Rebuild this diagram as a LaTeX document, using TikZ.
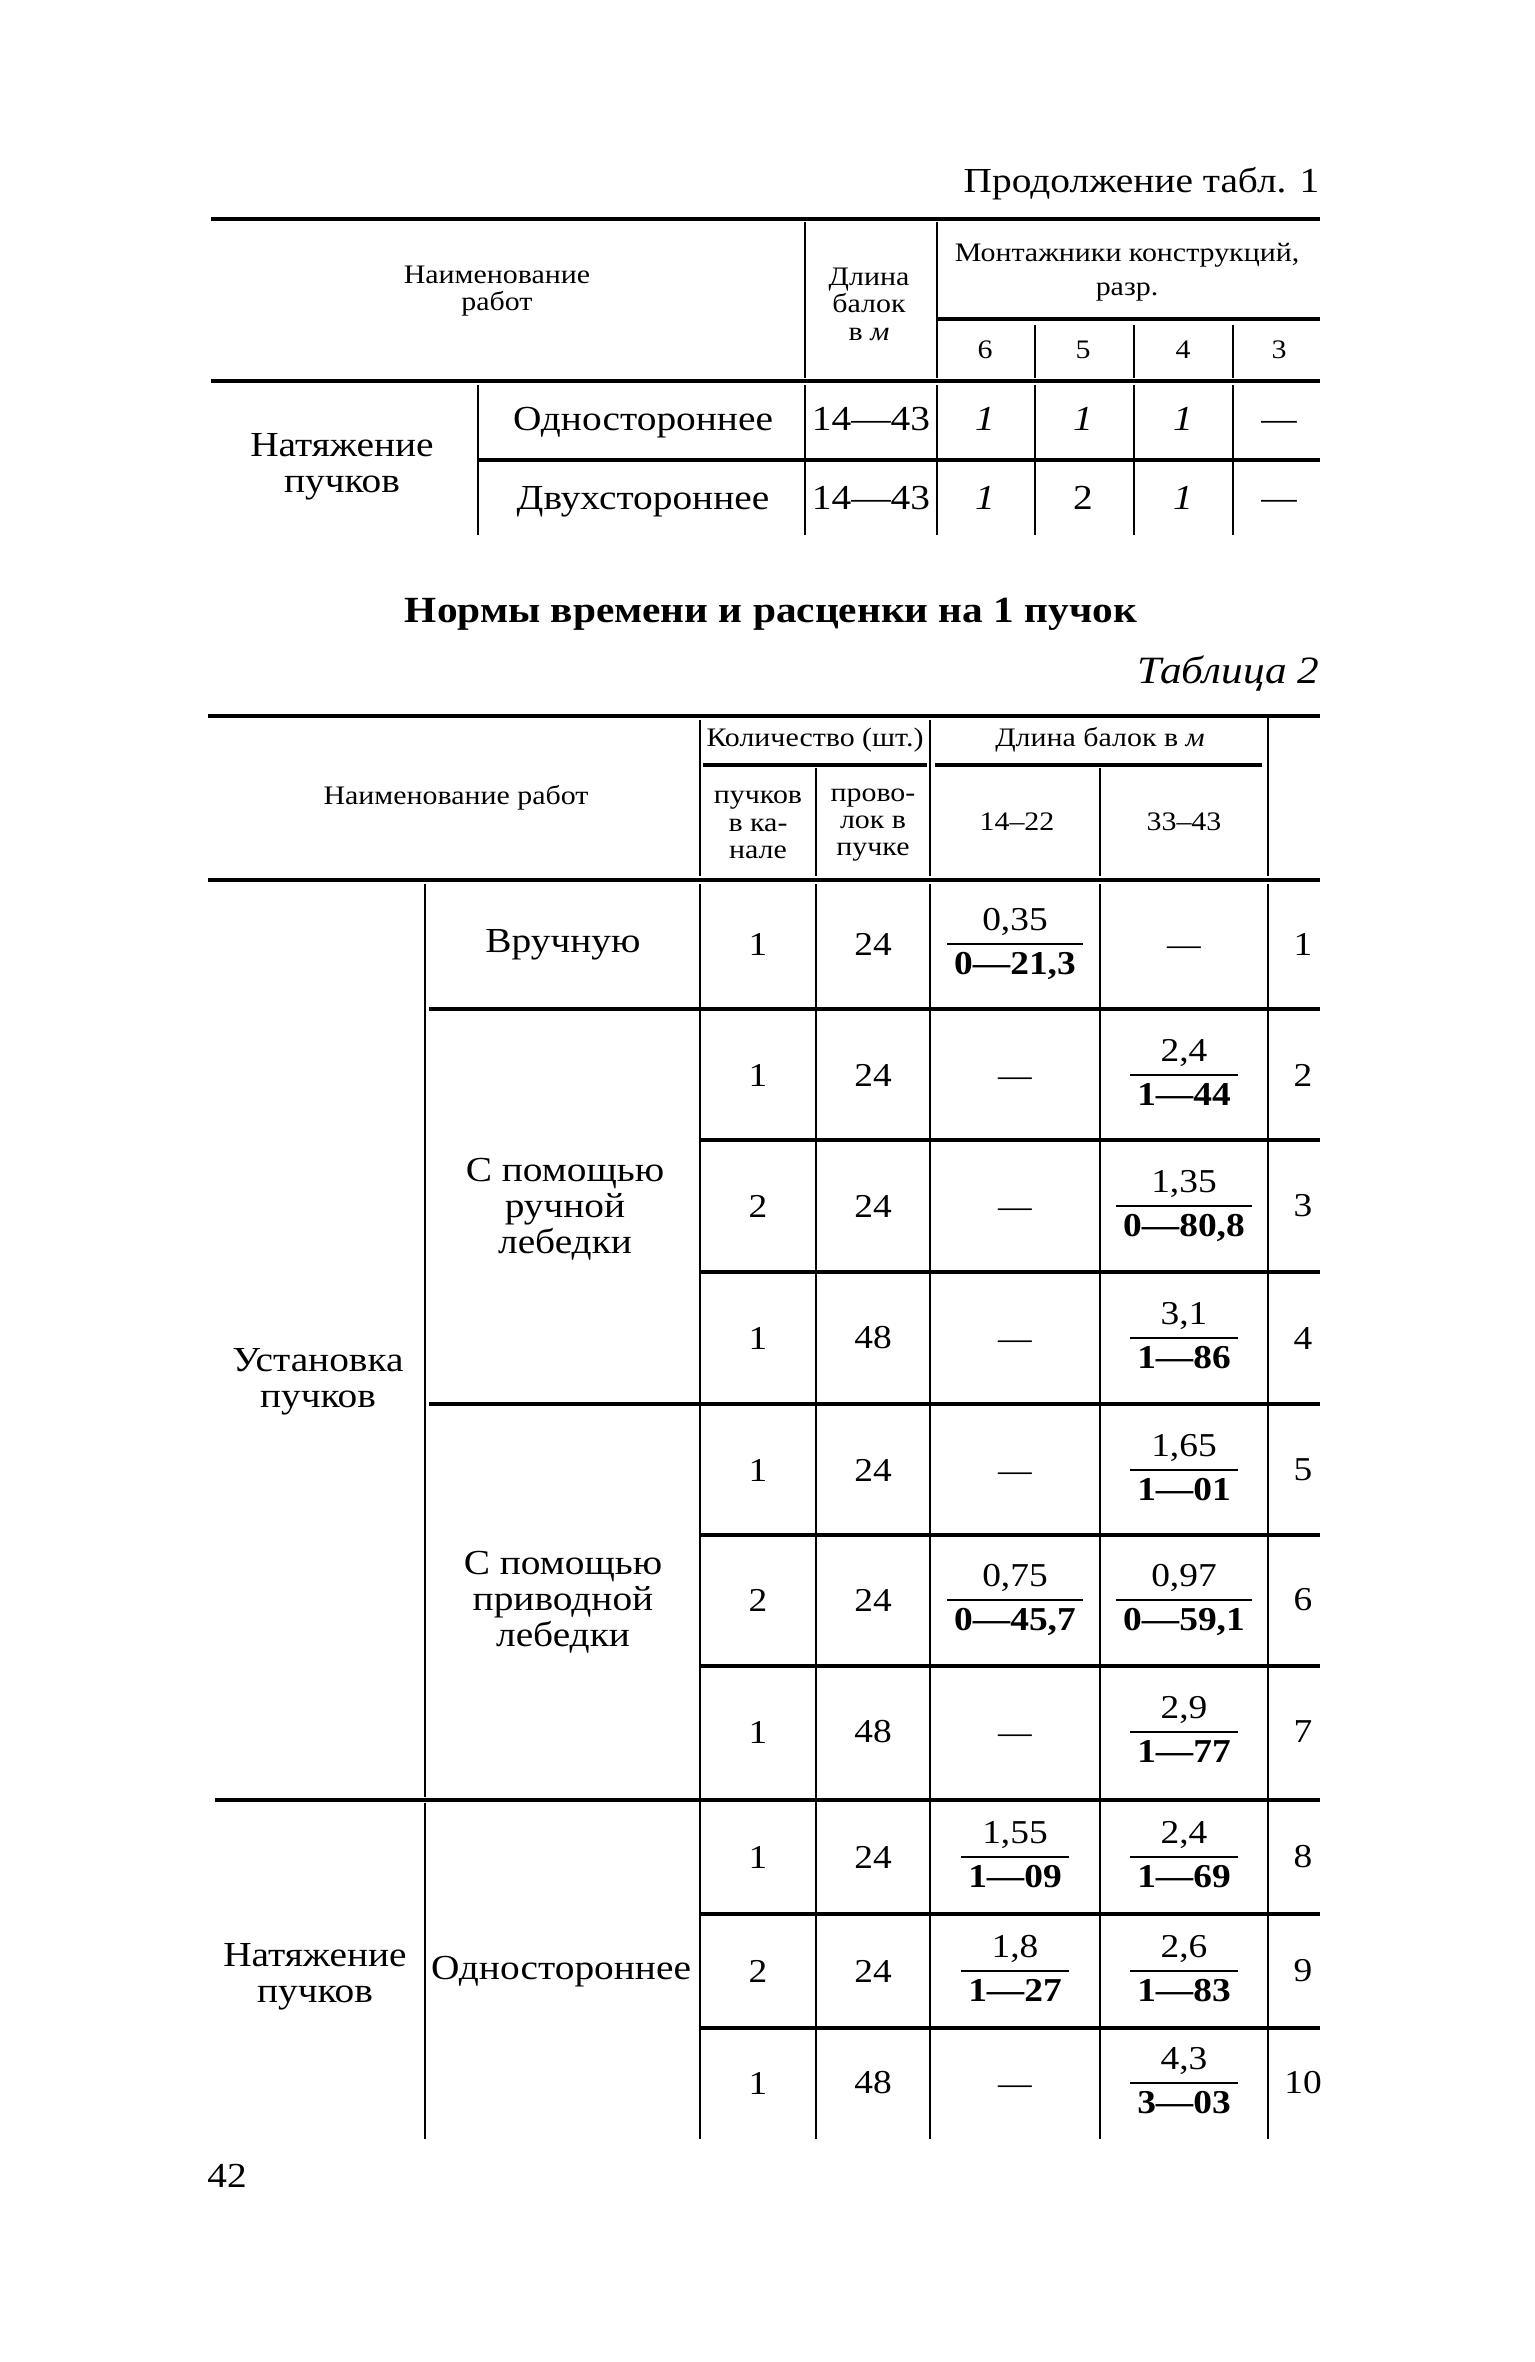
\documentclass[tikz,border=0pt]{standalone}
\usepackage{fontspec}
\setmainfont{Liberation Serif}[FakeStretch=1.12]
\usepackage{array}
\setlength{\arrayrulewidth}{0.6pt}
\newcommand{\frc}[2]{\begin{tabular}{@{\hspace{2pt}}c@{\hspace{2pt}}}#1\\\hline\textbf{#2}\end{tabular}}
\newcommand{\dsh}{\raisebox{0pt}[6.6pt][0pt]{\scalebox{0.9}[1]{—}}}

\begin{document}
\begin{tikzpicture}[x=0.1mm,y=-0.1mm,
        every node/.style={inner sep=0pt,align=center},
        body/.style={font=\fontsize{10}{10.2}\selectfont},
        cell/.style={font=\fontsize{9.5}{11.8}\selectfont},
        sm/.style={font=\fontsize{7.6}{7.8}\selectfont},
        hrule/.style={line width=1.1pt},
        vrule/.style={line width=0.7pt}]

  \useasboundingbox[fill=white] (0,0) rectangle (1535,2362);

  % table 1 (continued)
  \node[body,anchor=base east] (cont) at (1320,193) {Продолжение табл. 1};
  \draw[hrule] (211,219) -- (1320,219);
  \node[sm] (hname) at (497,291) {Наименование\\работ};
  \node[sm] (hlen) at (869,304) {Длина\\балок\\в \textit{м}};
  \node[sm] (hmont) at (1127,272) {Монтажники конструкций,\\[2pt]разр.};
  \draw[hrule] (937,319) -- (1320,319);
  \foreach \d/\x in {6/985,5/1083,4/1183,3/1279}
    \node[sm] (hr\d) at (\x,350) {\d};
  \draw[vrule] (805,222) -- (805,378) (937,222) -- (937,378);
  \foreach \x in {1035,1134,1233}
    \draw[vrule] (\x,325) -- (\x,378);
  \draw[hrule] (211,381) -- (1320,381);
  \draw[hrule] (478,460) -- (1320,460);
  \foreach \x in {478,805,937,1035,1134,1233}
    \draw[vrule] (\x,385) -- (\x,535);

  \node[body] (nat1) at (342,467) {Натяжение\\пучков};
  \node[body,anchor=base] (one1) at (643,430) {Одностороннее};
  \node[body,anchor=base] (two1) at (643,509) {Двухстороннее};
  \node[body,anchor=base] (len1) at (871,430) {14—43};
  \node[body,anchor=base] (len2) at (871,509) {14—43};
  \node[body,anchor=base] (v11) at (985,430) {\textit{1}};
  \node[body,anchor=base] (v12) at (1083,430) {\textit{1}};
  \node[body,anchor=base] (v13) at (1183,430) {\textit{1}};
  \node[body,anchor=base] (v14) at (1279,430) {\dsh};
  \node[body,anchor=base] (v21) at (985,509) {\textit{1}};
  \node[body,anchor=base] (v22) at (1083,509) {2};
  \node[body,anchor=base] (v23) at (1183,509) {\textit{1}};
  \node[body,anchor=base] (v24) at (1279,509) {\dsh};

  % title
  \node[font=\fontsize{10.5}{13}\selectfont\bfseries,anchor=base] (title) at (771,622)
    {Нормы времени и расценки на 1 пучок};
  \node[font=\fontsize{11}{13}\selectfont\itshape,anchor=base east] (tab2) at (1320,683) {Таблица 2};

  % table 2 header
  \draw[hrule] (208,716) -- (1320,716);
  \node[sm] (name2) at (456,798) {Наименование работ};
  \node[sm] (qty) at (815,740) {Количество (шт.)};
  \node[sm] (len) at (1100,740) {Длина балок в \textit{м}};
  \draw[hrule] (703,765) -- (927,765) (935,765) -- (1262,765);
  \node[sm] (qa) at (758,825) {пучков\\в ка-\\нале};
  \node[sm] (qb) at (873,825) {прово-\\лок в\\пучке};
  \node[sm] (la) at (1017,822) {14–22};
  \node[sm] (lb) at (1184,822) {33–43};
  \draw[vrule] (700,720) -- (700,876) (930,720) -- (930,876) (1268,718) -- (1268,876);
  \draw[vrule] (816,768) -- (816,876) (1100,768) -- (1100,876);
  \draw[hrule] (208,880) -- (1320,880);

  % table 2 body
  \draw[vrule] (425,884) -- (425,1797);
  \draw[vrule] (425,1803) -- (425,2139);
  \foreach \x in {700,816,930,1100,1268}
    \draw[vrule] (\x,884) -- (\x,2139);
  \draw[hrule] (429,1009) -- (1320,1009) (429,1404) -- (1320,1404) (215,1800) -- (1320,1800);
  \foreach \y in {1140,1272,1535,1666,1914,2028}
    \draw[hrule] (700,\y) -- (1320,\y);

  \node[body] (inst) at (318,1382) {Установка\\пучков};
  \node[body] (nat2) at (315,1977) {Натяжение\\пучков};
  \node[body] (hand) at (563,945) {Вручную};
  \node[body] (hwin) at (565,1209) {С помощью\\ручной\\лебедки};
  \node[body] (dwin) at (563,1602) {С помощью\\приводной\\лебедки};
  \node[body] (one2) at (561,1972) {Одностороннее};

  \foreach \r/\y/\a/\b/\c/\d in {
      1/944/1/24/{\frc{0,35}{0—21,3}}/\dsh,
      2/1075/1/24/\dsh/{\frc{2,4}{1—44}},
      3/1206/2/24/\dsh/{\frc{1,35}{0—80,8}},
      4/1338/1/48/\dsh/{\frc{3,1}{1—86}},
      5/1470/1/24/\dsh/{\frc{1,65}{1—01}},
      6/1600/2/24/{\frc{0,75}{0—45,7}}/{\frc{0,97}{0—59,1}},
      7/1732/1/48/\dsh/{\frc{2,9}{1—77}},
      8/1857/1/24/{\frc{1,55}{1—09}}/{\frc{2,4}{1—69}},
      9/1971/2/24/{\frc{1,8}{1—27}}/{\frc{2,6}{1—83}},
      10/2083/1/48/\dsh/{\frc{4,3}{3—03}}}
  {
    \node[cell] (a\r) at (758,\y) {\a};
    \node[cell] (b\r) at (873,\y) {\b};
    \node[cell] (c\r) at (1015,\y) {\c};
    \node[cell] (d\r) at (1184,\y) {\d};
    \node[cell] (n\r) at (1303,\y) {\r};
  }

  \node[body] (page) at (227,2176) {42};

\end{tikzpicture}
\end{document}
